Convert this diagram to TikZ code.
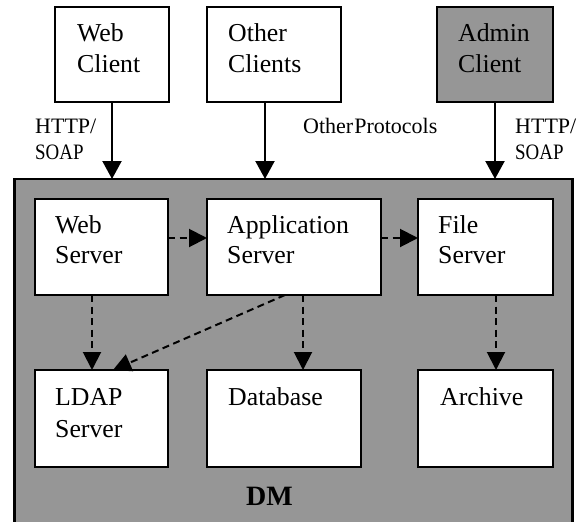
\documentclass[tikz,border=0pt]{standalone}
\usepackage{fontspec}
\setmainfont{Liberation Serif}
\usepackage{graphicx}
\usetikzlibrary{arrows.meta}
\definecolor{dmgray}{RGB}{150,150,150}
\begin{document}
\begin{tikzpicture}[x=1pt,y=-1pt,
  box/.style={draw, line width=2.2pt, fill=white, inner sep=0pt, outer sep=0pt, anchor=north west},
  txt/.style={anchor=base west, inner sep=0pt, font=\fontsize{25.8}{32}\selectfont},
  txtm/.style={anchor=base west, inner sep=0pt, font=\fontsize{25.8}{30}\selectfont},
  lbl/.style={anchor=base west, inner sep=0pt, font=\fontsize{22}{26}\selectfont},
  solidarrow/.style={line width=2.2pt, -{Triangle[length=18pt,width=19pt]}},
  dasharrow/.style={line width=2pt, dash pattern=on 7pt off 4.5pt, -{Triangle[length=18pt,width=18pt]}}]
\useasboundingbox (0,0) rectangle (584,522);
% client boxes
\node[box, minimum width=114pt, minimum height=95pt] (wc) at (55,7) {};
\node[box, minimum width=134pt, minimum height=95pt] (oc) at (207,7) {};
\node[box, fill=dmgray, minimum width=116pt, minimum height=95pt] (ac) at (437,7) {};
% DM container
\node[box, fill=dmgray, minimum width=558pt, minimum height=352pt] (dm) at (14.5,179) {};
% inner boxes
\node[box, minimum width=133pt, minimum height=96pt] (ws) at (35,199) {};
\node[box, minimum width=174pt, minimum height=96pt] (as) at (207,199) {};
\node[box, minimum width=135pt, minimum height=96pt] (fs) at (418,199) {};
\node[box, minimum width=133pt, minimum height=97pt] (ldap) at (35,370) {};
\node[box, minimum width=154pt, minimum height=97pt] (db) at (207,370) {};
\node[box, minimum width=135pt, minimum height=97pt] (ar) at (418,370) {};
% texts
\node[txt] (wct) at (77,41) {\parbox[t]{4cm}{Web\\Client}};
\node[txt] (oct) at (228,41) {\parbox[t]{4cm}{Other\\Clients}};
\node[txt] (act) at (458,41) {\parbox[t]{4cm}{Admin\\Client}};
\node[txtm] (wst) at (55,233) {\parbox[t]{4cm}{Web\\Server}};
\node[txtm] (ast) at (227,233) {\parbox[t]{4cm}{Application\\Server}};
\node[txtm] (fst) at (438,233) {\parbox[t]{4cm}{File\\Server}};
\node[txt] (ldapt) at (55,405) {\parbox[t]{4cm}{LDAP\\Server}};
\node[txt] (dbt) at (228,405) {Database};
\node[txt] (art) at (440,405) {Archive};
\node[anchor=base west, inner sep=0pt, font=\bfseries\fontsize{28}{32}\selectfont] (dmt) at (246,505) {DM};
% protocol labels
\node[lbl] (h1) at (35,133) {\parbox[t]{3cm}{HTTP/\\\scalebox{0.86}[1]{SOAP}}};
\node[lbl] (op) at (303,133) {Other\kern1pt Protocols};
\node[lbl] (h2) at (515,133) {\parbox[t]{3cm}{HTTP/\\\scalebox{0.86}[1]{SOAP}}};
% solid arrows
\draw[solidarrow] (wc.south) -- (wc.south |- dm.north);
\draw[solidarrow] ([xshift=-9pt]oc.south) -- ([xshift=-9pt]oc.south |- dm.north);
\draw[solidarrow] (ac.south) -- (ac.south |- dm.north);
% dashed arrows
\draw[dasharrow] ([yshift=9pt]ws.east) -- ([yshift=9pt]as.west);
\draw[dasharrow] ([yshift=9pt]as.east) -- ([yshift=9pt]fs.west);
\draw[dasharrow] ([xshift=-9.5pt]ws.south) -- ([xshift=-9.5pt]ldap.north);
\draw[dasharrow] ([xshift=9pt]as.south) -- ([xshift=9pt]as.south |- db.north);
\draw[dasharrow] ([xshift=-9pt]as.south) -- ([xshift=11.5pt]ldap.north);
\draw[dasharrow] ([xshift=10.5pt]fs.south) -- ([xshift=10.5pt]ar.north);
\end{tikzpicture}
\end{document}
